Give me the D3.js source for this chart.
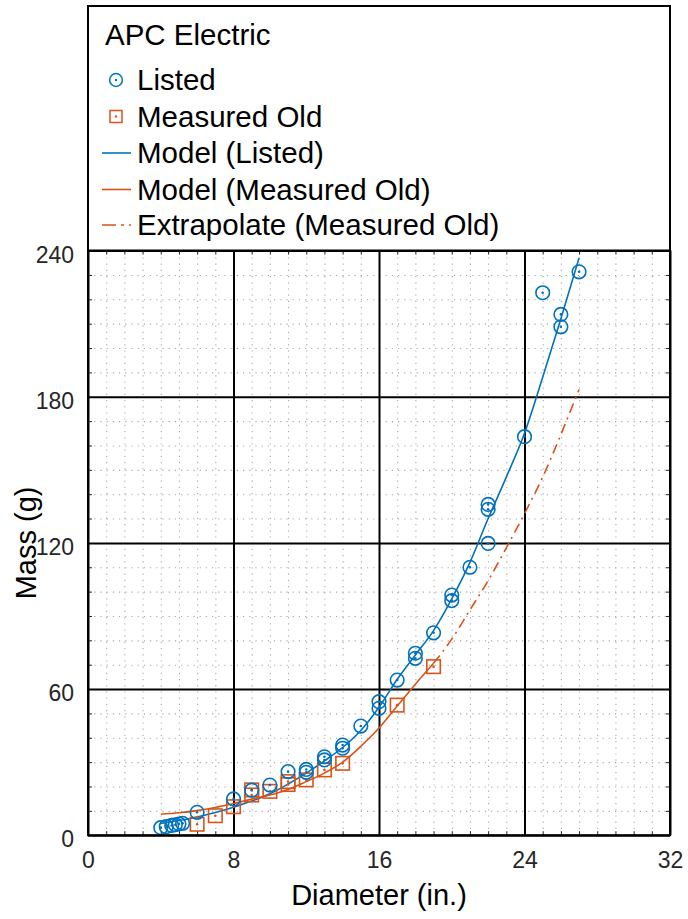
<!DOCTYPE html>
<html>
<head>
<meta charset="utf-8">
<script src="https://cdn.jsdelivr.net/npm/d3@7"></script>
<style>
  html, body { margin: 0; padding: 0; background: #fff; }
  svg { display: block; font-family: "Liberation Sans", Arial, Helvetica, sans-serif; }
</style>
</head>
<body>
<svg id="chart" width="688" height="919"></svg>
<script>
// APC Electric propellers: mass vs. diameter
const listedDiameter = [4, 4.3, 4.6, 4.8, 5, 5.2, 6, 8, 9, 10, 11, 12, 12, 13, 13, 14, 14, 15, 16, 16, 17, 18, 18, 19, 20, 20, 21, 22, 22, 22, 24, 25, 26, 26, 27];
const listedMass     = [3.1, 3.5, 4.0, 4.3, 4.6, 4.9, 9.4, 14.9, 18.5, 20.6, 26.1, 27, 25.8, 32.2, 30.9, 37, 35.7, 44.8, 54.8, 52.1, 63.7, 74.7, 72.6, 83.1, 98.6, 96.3, 110, 135.8, 133.8, 119.8, 163.6, 222.7, 213.8, 208.7, 231.3];

const measuredDiameter = [6, 7, 8, 9, 9, 10, 11, 11, 12, 13, 14, 17, 19];
const measuredMass     = [4.5, 8.0, 11.7, 18.6, 16.5, 18, 22, 20.8, 22.7, 26.8, 29.5, 53.4, 69.2];

// fitted model curves
const modelListedDiameter = [4, 5, 6, 7, 8, 9, 10, 11, 12, 13, 14, 15, 16, 17, 18, 19, 20, 21, 22, 23, 24, 25, 26, 27];
const modelListedMass     = [4.8, 6, 7.5, 9.3, 11.5, 14, 17, 21, 25.5, 30.5, 36, 43, 52.5, 64, 74, 84, 97, 112, 130, 147, 165, 188, 212, 237];

const modelMeasuredDiameter = [4, 5, 6, 7, 8, 9, 10, 11, 12, 13, 14, 15, 16, 17, 18, 19];
const modelMeasuredMass     = [8.6, 9.2, 10.1, 11.4, 13, 14.8, 16.5, 18.8, 22, 25.5, 30, 36.5, 44, 53, 62, 70.6];

const extrapDiameter = [19, 20, 21, 22, 23, 24, 25, 26, 27];
const extrapMass     = [70.6, 80.5, 92.5, 104.5, 118, 132, 147, 164.5, 183];

const xTicks = [0, 8, 16, 24, 32];
const yTicks = [0, 60, 120, 180, 240];

const legendTitle = "APC Electric";
const legendLabels = ["Listed", "Measured Old", "Model (Listed)", "Model (Measured Old)", "Extrapolate (Measured Old)"];

const BLUE = "#0072BD", ORANGE = "#D95319";

const svg = d3.select("#chart");
const L = 88, R = 670, T = 250.6, B = 835.2, legendTop = 6;

const x = d3.scaleLinear().domain([0, 32]).range([L, R]);
const y = d3.scaleLinear().domain([0, 240]).range([B, T]);

// minor grid (dotted)
const xMinor = d3.range(0, 33, 1).filter(v => v % 8 !== 0);
const yMinor = d3.range(0, 241, 10).filter(v => v % 60 !== 0);

const gMinorX = svg.append("g").attr("transform", `translate(0,${B})`)
  .call(d3.axisBottom(x).tickValues(xMinor).tickSize(-(B - T)).tickFormat(""));
const gMinorY = svg.append("g").attr("transform", `translate(${L},0)`)
  .call(d3.axisLeft(y).tickValues(yMinor).tickSize(-(R - L)).tickFormat(""));
[gMinorX, gMinorY].forEach(g => {
  g.select(".domain").remove();
  g.selectAll("line").attr("stroke", "#a8a8a8").attr("stroke-width", 1.1).attr("stroke-dasharray", "1.2,5");
});

// major grid (solid)
const gMajorX = svg.append("g").attr("transform", `translate(0,${B})`)
  .call(d3.axisBottom(x).tickValues(xTicks).tickSize(-(B - T)).tickFormat(""));
const gMajorY = svg.append("g").attr("transform", `translate(${L},0)`)
  .call(d3.axisLeft(y).tickValues(yTicks).tickSize(-(R - L)).tickFormat(""));
[gMajorX, gMajorY].forEach(g => {
  g.select(".domain").remove();
  g.selectAll("line").attr("stroke", "#000").attr("stroke-width", 2);
});

// minor tick marks on all four sides
const tickLen = 4;
const minorTicks = [
  [d3.axisBottom(x).tickValues(xMinor), `translate(0,${B})`, -tickLen],
  [d3.axisTop(x).tickValues(xMinor), `translate(0,${T})`, -tickLen],
  [d3.axisLeft(y).tickValues(yMinor), `translate(${L},0)`, -tickLen],
  [d3.axisRight(y).tickValues(yMinor), `translate(${R},0)`, -tickLen]
];
minorTicks.forEach(([ax, tr, len]) => {
  const g = svg.append("g").attr("transform", tr).call(ax.tickSize(len).tickFormat(""));
  g.select(".domain").remove();
  g.selectAll("line").attr("stroke", "#262626").attr("stroke-width", 1);
});

// tick labels
const gx = svg.append("g").attr("transform", `translate(0,${B})`)
  .call(d3.axisBottom(x).tickValues(xTicks).tickSize(0).tickPadding(16).tickFormat(d3.format("d")));
const gy = svg.append("g").attr("transform", `translate(${L},0)`)
  .call(d3.axisLeft(y).tickValues(yTicks).tickSize(0).tickPadding(14).tickFormat(d3.format("d")));
[gx, gy].forEach(g => {
  g.select(".domain").remove();
  g.selectAll("text").attr("fill", "#262626").style("font-size", "23px")
    .style("font-family", "'Liberation Sans', Arial, sans-serif");
});
gy.selectAll("text").attr("dy", "0.5em");
gx.selectAll("text").attr("dy", "0.75em");

// axis titles
svg.append("text").attr("x", (L + R) / 2).attr("y", 905).attr("text-anchor", "middle")
  .attr("fill", "#000").style("font-size", "29px").text("Diameter (in.)");
svg.append("text").attr("transform", `translate(36,${(T + B) / 2}) rotate(-90)`)
  .attr("text-anchor", "middle").attr("fill", "#000").style("font-size", "29px").text("Mass (g)");

// model curves
const line = d3.line().x(d => x(d[0])).y(d => y(d[1])).curve(d3.curveMonotoneX);
const zip = (a, b) => a.map((v, i) => [v, b[i]]);

svg.append("path").datum(zip(modelListedDiameter, modelListedMass))
  .attr("d", line).attr("fill", "none").attr("stroke", BLUE).attr("stroke-width", 1.6);
svg.append("path").datum(zip(modelMeasuredDiameter, modelMeasuredMass))
  .attr("d", line).attr("fill", "none").attr("stroke", ORANGE).attr("stroke-width", 1.6);
svg.append("path").datum(zip(extrapDiameter, extrapMass))
  .attr("d", line).attr("fill", "none").attr("stroke", ORANGE).attr("stroke-width", 1.6)
  .attr("stroke-dasharray", "10,5,2,5");

// measured squares
const SQ = 13.5;
const gMeas = svg.append("g");
zip(measuredDiameter, measuredMass).forEach(([d, m]) => {
  gMeas.append("rect").attr("x", x(d) - SQ / 2).attr("y", y(m) - SQ / 2)
    .attr("width", SQ).attr("height", SQ).attr("fill", "none")
    .attr("stroke", ORANGE).attr("stroke-width", 1.6);
  gMeas.append("circle").attr("cx", x(d)).attr("cy", y(m)).attr("r", 1.3).attr("fill", ORANGE);
});

// listed circles
const gList = svg.append("g");
zip(listedDiameter, listedMass).forEach(([d, m]) => {
  gList.append("circle").attr("cx", x(d)).attr("cy", y(m)).attr("r", 6.8)
    .attr("fill", "none").attr("stroke", BLUE).attr("stroke-width", 1.6);
  gList.append("circle").attr("cx", x(d)).attr("cy", y(m)).attr("r", 1.3).attr("fill", BLUE);
});

// frame around legend + axes
svg.append("rect").attr("x", L).attr("y", legendTop).attr("width", R - L).attr("height", B - legendTop)
  .attr("fill", "none").attr("stroke", "#000").attr("stroke-width", 2);
svg.append("line").attr("x1", L).attr("x2", R).attr("y1", T).attr("y2", T)
  .attr("stroke", "#000").attr("stroke-width", 2);

// legend
const lg = svg.append("g").style("font-size", "29.5px").attr("fill", "#000");
lg.append("text").attr("x", 105).attr("y", 45).text(legendTitle);
const rowsY = [80, 116.5, 153, 189.5, 225];
const textX = 137;
legendLabels.forEach((t, i) => {
  lg.append("text").attr("x", textX).attr("y", rowsY[i] + 10).text(t);
});
lg.append("circle").attr("cx", 116).attr("cy", rowsY[0]).attr("r", 6.4)
  .attr("fill", "none").attr("stroke", BLUE).attr("stroke-width", 1.5);
lg.append("circle").attr("cx", 116).attr("cy", rowsY[0]).attr("r", 1.2).attr("fill", BLUE);
lg.append("rect").attr("x", 116 - 6).attr("y", rowsY[1] - 6).attr("width", 12).attr("height", 12)
  .attr("fill", "none").attr("stroke", ORANGE).attr("stroke-width", 1.5);
lg.append("circle").attr("cx", 116).attr("cy", rowsY[1]).attr("r", 1.2).attr("fill", ORANGE);
lg.append("line").attr("x1", 102).attr("x2", 131).attr("y1", rowsY[2]).attr("y2", rowsY[2])
  .attr("stroke", BLUE).attr("stroke-width", 1.6);
lg.append("line").attr("x1", 102).attr("x2", 131).attr("y1", rowsY[3]).attr("y2", rowsY[3])
  .attr("stroke", ORANGE).attr("stroke-width", 1.6);
lg.append("line").attr("x1", 102).attr("x2", 131).attr("y1", rowsY[4]).attr("y2", rowsY[4])
  .attr("stroke", ORANGE).attr("stroke-width", 1.6).attr("stroke-dasharray", "14,5,3,5");
</script>
</body>
</html>
